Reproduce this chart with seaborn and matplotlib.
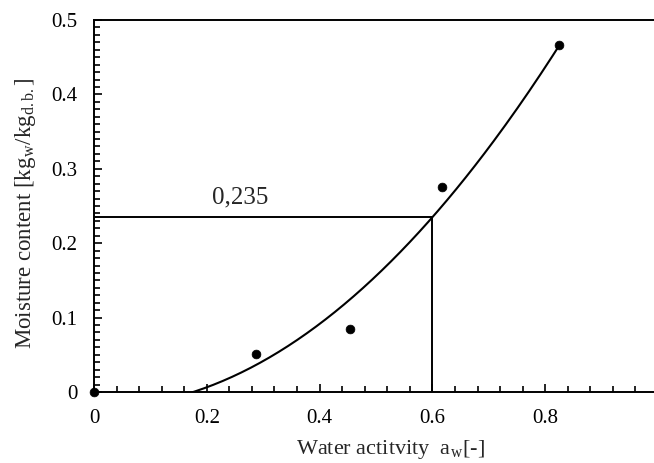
import numpy as np
import pandas as pd
import matplotlib
matplotlib.use("Agg")
import matplotlib.pyplot as plt
from matplotlib.ticker import MultipleLocator, FixedLocator, FixedFormatter
import seaborn as sns

# ---- data ----
aw_points = [0.0, 0.287, 0.454, 0.6165, 0.825]
mc_points = [0.0, 0.051, 0.085, 0.276, 0.466]
# polynomial trendline (order 2) coefficients: a*x^2 + b*x + c
trend_coef = [0.728, -0.0109, -0.0206]
target_aw = 0.6
target_mc = 0.235
target_label = "0,235"
x_ticks = [0, 0.2, 0.4, 0.6, 0.8]
x_ticklabels = ["0", "0.2", "0.4", "0.6", "0.8"]
y_ticks = [0, 0.1, 0.2, 0.3, 0.4, 0.5]
y_ticklabels = ["0", "0.1", "0.2", "0.3", "0.4", "0.5"]

sns.set_style("ticks")
plt.rcParams["font.family"] = ["Liberation Serif", "DejaVu Serif"]
plt.rcParams["mathtext.fontset"] = "stix"

fig = plt.figure(figsize=(6.54, 4.63), dpi=100)
W, H = 654, 463
x0, x1, ytop, ybot = 94, 654, 20, 392
ax = fig.add_axes([x0 / W, (H - ybot) / H, (x1 - x0) / W, (ybot - ytop) / H])

pts = pd.DataFrame({"aw": aw_points, "mc": mc_points})
xs = np.linspace(0, max(aw_points), 200)
curve = pd.DataFrame({"aw": xs, "mc": np.polyval(trend_coef, xs)})

sns.lineplot(data=curve, x="aw", y="mc", ax=ax, color="black", linewidth=1.5)
sns.scatterplot(data=pts, x="aw", y="mc", ax=ax, color="black", s=40,
                edgecolor="black", zorder=5, clip_on=False)

ax.plot([0, target_aw], [target_mc, target_mc], color="black", lw=1.4)
ax.plot([target_aw, target_aw], [0, target_mc], color="black", lw=1.4)
ax.text(0.26, 0.253, target_label, ha="center", va="baseline", fontsize=18)

ax.set_xlim(0, (x1 - x0) / 564)
ax.set_ylim(0, 0.5)

ax.xaxis.set_major_locator(FixedLocator(x_ticks))
ax.xaxis.set_major_formatter(FixedFormatter(x_ticklabels))
ax.xaxis.set_minor_locator(MultipleLocator(0.04))
ax.yaxis.set_major_locator(FixedLocator(y_ticks))
ax.yaxis.set_major_formatter(FixedFormatter(y_ticklabels))
ax.yaxis.set_minor_locator(MultipleLocator(0.01))

ax.tick_params(which="both", direction="in", colors="black", width=1.2)
ax.tick_params(which="major", length=6, labelsize=15, pad=12)
ax.tick_params(which="minor", length=4)

for side in ["left", "bottom", "top"]:
    ax.spines[side].set_linewidth(1.4)
    ax.spines[side].set_color("black")
ax.spines["right"].set_visible(False)

ax.set_xlabel(r"Water actitvity  a$_\mathregular{w}$[-]", fontsize=16)
ax.set_ylabel(r"Moisture content [kg$_\mathregular{w}$/kg$_\mathregular{d.b.}$]", fontsize=16.5)
ax.xaxis.set_label_coords((390 - x0) / (x1 - x0), (ybot - 438) / (ybot - ytop))
ax.xaxis.label.set_va("top")
ax.yaxis.set_label_coords((38 - x0) / (x1 - x0), (ybot - 213) / (ybot - ytop))

fig.savefig("out.png", dpi=100)
